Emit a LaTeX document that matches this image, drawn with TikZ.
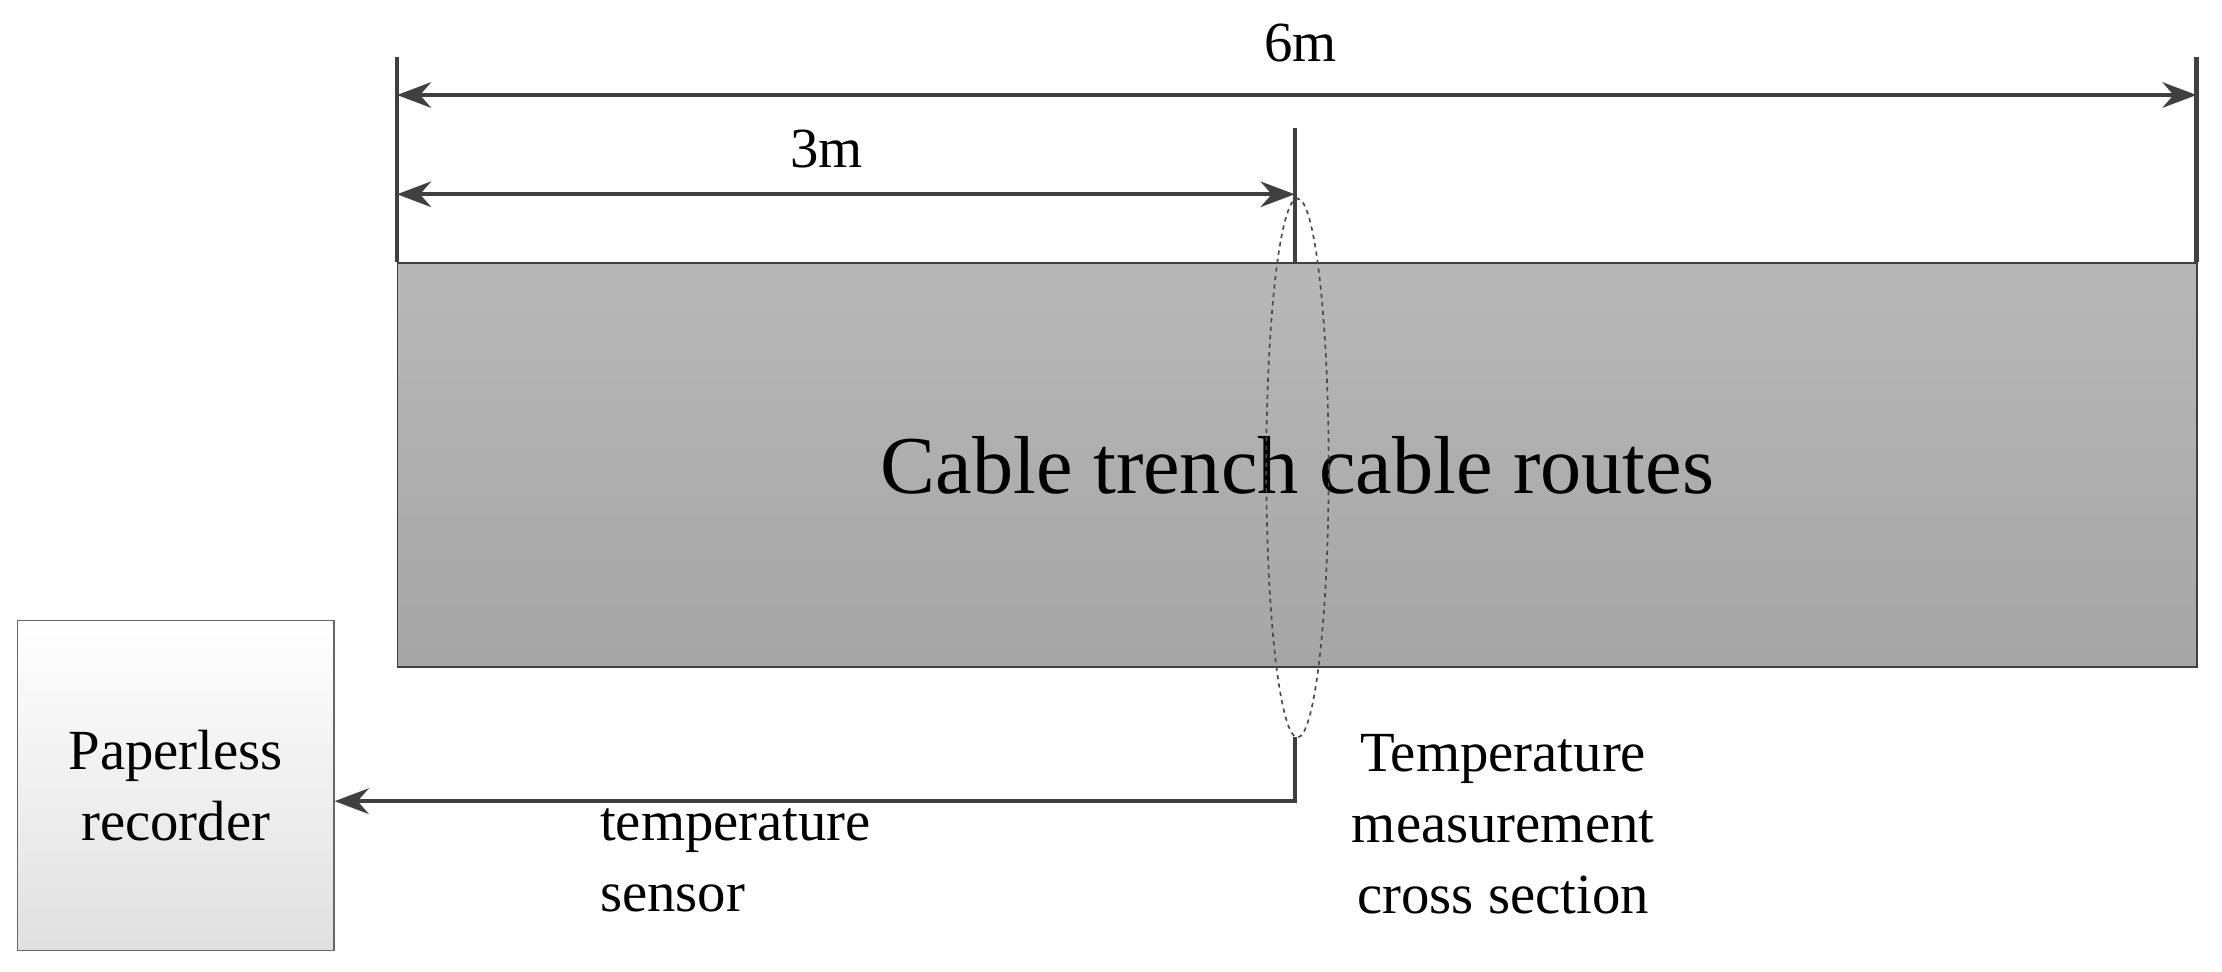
\documentclass[tikz,border=0pt]{standalone}
\usepackage{fontspec}
\setmainfont{Liberation Serif}
\usetikzlibrary{arrows.meta,shapes.geometric}
\begin{document}
\begin{tikzpicture}[x=1pt,y=-1pt,
  ln/.style={line width=3pt,draw=black!75},
  tip/.tip={Stealth[length=24pt,width=18pt]},
  arr/.style={ln,-tip},
  dim/.style={ln,tip-tip},
  lbl/.style={font=\fontsize{40}{50}\selectfont,align=center,inner sep=0}]
\useasboundingbox (0,0) rectangle (1567,685);
\node[draw=black!75,line width=1pt,top color=black!28,bottom color=black!35,minimum width=1269pt,minimum height=285pt,anchor=north west,inner sep=0] (trench) at (280,185) {};
\node[lbl,font=\fontsize{58}{60}\selectfont] (tt) at (915,328) {Cable trench cable routes};
\node[draw=black!60,line width=1pt,top color=white,bottom color=black!12,minimum width=223pt,minimum height=233pt,anchor=north west,inner sep=0] (rec) at (12,437) {};
\node[lbl] at (rec.center) {Paperless\\recorder};
\coordinate (l1) at (280,40); \coordinate (l2) at (280,185);
\coordinate (r1) at (1549,40); \coordinate (r2) at (1549,185);
\coordinate (m1) at (913,90); \coordinate (m2) at (913,185);
\draw[ln] (l1)--(l2); \draw[ln] (r1)--(r2); \draw[ln] (m1)--(m2);
\coordinate (a6l) at (280,67); \coordinate (a6r) at (1549,67);
\draw[dim] (a6l)--(a6r);
\node[lbl] (six) at (917,30) {6m};
\coordinate (a3l) at (280,137); \coordinate (a3r) at (913,137);
\draw[dim] (a3l)--(a3r);
\node[lbl] (three) at (583,105) {3m};
\node[draw=black!70,dashed,line width=1.2pt,ellipse,minimum width=44pt,minimum height=380pt,inner sep=0] (ell) at (915,330) {};
\coordinate (s0) at (913,520); \coordinate (s1) at (913,565);
\draw[arr] (s0)--(s1)--(rec.east|-s1);
\node[lbl,anchor=north west,align=left] (sen) at (423,570) {temperature\\sensor};
\node[lbl,anchor=north] (cs) at (1060,518) {Temperature\\measurement\\cross section};
\end{tikzpicture}
\end{document}
